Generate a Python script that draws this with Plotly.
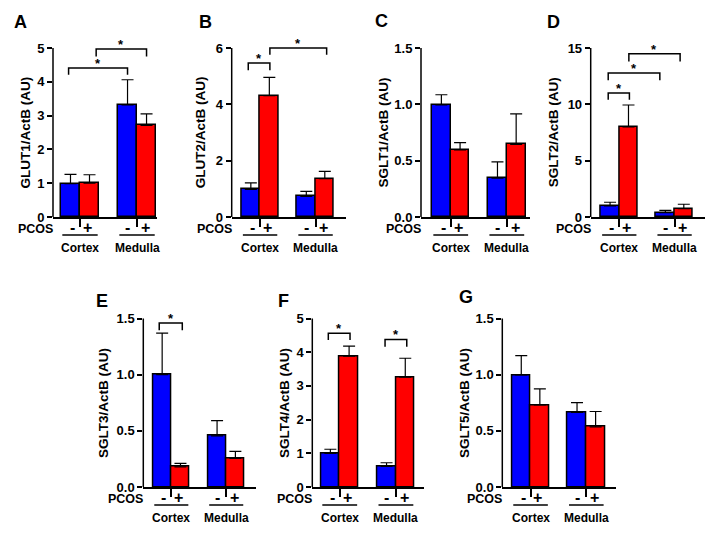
import plotly.graph_objects as go

# ---------------- data ----------------
groups = ["Cortex", "Medulla"]
group_centers = [0.5, 3.5]
pcos_labels = ["-", "+", "-", "+"]
pcos_label_x = [0.1, 0.9, 3.0, 3.95]
bar_x = [0, 1, 3, 4]
bar_colors = ["#0000FF", "#FF0000", "#0000FF", "#FF0000"]

glut1_mean = [0.99, 1.0, 3.32, 2.71]
glut1_err = [0.27, 0.25, 0.74, 0.34]
glut2_mean = [0.98, 4.31, 0.73, 1.36]
glut2_err = [0.23, 0.65, 0.18, 0.26]
sglt1_mean = [0.995, 0.595, 0.345, 0.645]
sglt1_err = [0.09, 0.065, 0.145, 0.27]
sglt2_mean = [0.98, 7.99, 0.38, 0.75]
sglt2_err = [0.33, 1.95, 0.21, 0.38]
sglt3_mean = [1.0, 0.18, 0.455, 0.255]
sglt3_err = [0.37, 0.03, 0.135, 0.062]
sglt4_mean = [1.0, 3.88, 0.61, 3.26]
sglt4_err = [0.12, 0.3, 0.11, 0.56]
sglt5_mean = [0.997, 0.73, 0.663, 0.535]
sglt5_err = [0.173, 0.143, 0.088, 0.137]

# significance brackets: (x start, x end, bracket height, tip bottom)
glut1_sig = [(-0.1, 3.0, 4.41, 4.21), (1.35, 4.0, 4.97, 4.75)]
glut2_sig = [(-0.14, 1.03, 5.47, 5.21), (1.03, 4.1, 6.0, 5.76)]
sglt1_sig = []
sglt2_sig = [(-0.1, 1.05, 11.0, 10.4), (-0.1, 2.7, 12.78, 12.13), (1.02, 3.8, 14.5, 13.8)]
sglt3_sig = [(-0.16, 1.1, 1.46, 1.395)]
sglt4_sig = [(-0.11, 1.05, 4.56, 4.36), (2.92, 4.08, 4.38, 4.16)]
sglt5_sig = []

letters = ["A", "B", "C", "D", "E", "F", "G"]
y_titles = ["GLUT1/ActB (AU)", "GLUT2/ActB (AU)", "SGLT1/ActB (AU)", "SGLT2/ActB (AU)",
            "SGLT3/ActB (AU)", "SGLT4/ActB (AU)", "SGLT5/ActB (AU)"]
y_max = [5, 6, 1.5, 15, 1.5, 5, 1.5]
y_tickvals = [[0, 1, 2, 3, 4, 5], [0, 2, 4, 6], [0, 0.5, 1.0, 1.5], [0, 5, 10, 15],
              [0, 0.5, 1.0, 1.5], [0, 1, 2, 3, 4, 5], [0, 0.5, 1.0, 1.5]]
y_ticktext = [["0", "1", "2", "3", "4", "5"], ["0", "2", "4", "6"], ["0.0", "0.5", "1.0", "1.5"],
              ["0", "5", "10", "15"], ["0.0", "0.5", "1.0", "1.5"], ["0", "1", "2", "3", "4", "5"],
              ["0.0", "0.5", "1.0", "1.5"]]

means = [glut1_mean, glut2_mean, sglt1_mean, sglt2_mean, sglt3_mean, sglt4_mean, sglt5_mean]
errs = [glut1_err, glut2_err, sglt1_err, sglt2_err, sglt3_err, sglt4_err, sglt5_err]
sigs = [glut1_sig, glut2_sig, sglt1_sig, sglt2_sig, sglt3_sig, sglt4_sig, sglt5_sig]

# ---------------- layout geometry (pixels) ----------------
W, H = 715, 534
x_px = [(53, 157), (231.7, 345.7), (421, 530), (590.7, 705),
        (143.3, 255.7), (312.3, 424), (502.3, 615.7)]
x_ranges = [(-0.92, 4.55), (-1.035, 5.13), (-1.09, 4.74), (-1.05, 5.15),
            (-1.03, 5.11), (-0.965, 5.0), (-1.02, 5.08)]
y_px = [(217, 48)] * 4 + [(487, 318.5)] * 3
title_offset = [28, 31, 38, 37, 40, 28, 38]
letter_px = [(20, 22), (205.5, 22), (381.5, 20.5), (553, 22), (101.7, 301), (283.7, 301), (466, 297)]
PAD = 22

FONT = "Liberation Sans, Arial, sans-serif"
fig = go.Figure()
shapes, annotations = [], []

for i in range(7):
    n = "" if i == 0 else str(i + 1)
    xa, ya = "x" + n, "y" + n
    y0p, ytp = y_px[i]
    h = y0p - ytp
    ymax_ext = y_max[i] * (h + PAD) / h

    fig.add_trace(go.Bar(
        x=bar_x, y=means[i], width=1, xaxis=xa, yaxis=ya,
        marker=dict(color=bar_colors, line=dict(color="black", width=1.5)),
        error_y=dict(type="data", symmetric=False, array=errs[i], arrayminus=[0] * 4,
                     color="black", thickness=1.2, width=6),
        showlegend=False, hoverinfo="skip"))

    fig.layout["xaxis" + n] = dict(
        domain=[x_px[i][0] / W, x_px[i][1] / W], range=list(x_ranges[i]), anchor=ya,
        automargin=False,
        showgrid=False, zeroline=False, showline=True, linecolor="black", linewidth=1.5,
        tickvals=group_centers, ticks="outside", ticklen=8, tickwidth=1.5, tickcolor="black",
        showticklabels=False, fixedrange=True)
    fig.layout["yaxis" + n] = dict(
        domain=[1 - y0p / H, 1 - (ytp - PAD) / H], range=[0, ymax_ext], anchor=xa,
        automargin=False,
        showgrid=False, zeroline=False, showline=False,
        tickvals=y_tickvals[i], ticktext=y_ticktext[i], ticks="outside", ticklen=5,
        tickwidth=1.5, tickcolor="black",
        tickfont=dict(family=FONT, size=13, color="black", weight="bold"),
        fixedrange=True)

    # y axis title
    annotations.append(dict(xref=xa + " domain", yref=ya, x=0, y=y_max[i] / 2, xanchor="center",
                            yanchor="middle", xshift=-title_offset[i], textangle=-90,
                            text=y_titles[i], showarrow=False,
                            font=dict(family=FONT, size=13.5, color="black", weight="bold")))

    # y axis line ending at the top tick
    shapes.append(dict(type="line", xref=xa + " domain", yref=ya, x0=0, x1=0, y0=0, y1=y_max[i],
                       line=dict(color="black", width=1.5)))

    # significance brackets
    for (sx0, sx1, sy, sb) in sigs[i]:
        shapes.append(dict(type="path", xref=xa, yref=ya,
                           path=f"M {sx0},{sb} L {sx0},{sy} L {sx1},{sy} L {sx1},{sb}",
                           line=dict(color="black", width=1.5)))
        annotations.append(dict(xref=xa, yref=ya, x=(sx0 + sx1) / 2, y=sy, yanchor="bottom",
                                yshift=-5, text="*", showarrow=False,
                                font=dict(family=FONT, size=13, color="black", weight="bold")))

    # PCOS row
    annotations.append(dict(xref=xa + " domain", yref=ya, x=0, y=0, xanchor="right", yanchor="middle",
                            xshift=1, yshift=-12, text="PCOS", showarrow=False, borderpad=0,
                            font=dict(family=FONT, size=12.5, color="black", weight="bold")))
    for lx, lt in zip(pcos_label_x, pcos_labels):
        annotations.append(dict(xref=xa, yref=ya, x=lx, y=0, yanchor="middle", yshift=-10,
                                text=lt, showarrow=False,
                                font=dict(family=FONT, size=16, color="black", weight="bold")))
    # group underline and labels
    for gc, g in zip(group_centers, groups):
        shapes.append(dict(type="line", xref=xa, yref=ya + " domain", x0=gc - 0.93, x1=gc + 0.93,
                           ysizemode="pixel", yanchor=0, y0=-18, y1=-18,
                           line=dict(color="black", width=1.5)))
        annotations.append(dict(xref=xa, yref=ya, x=gc, y=0, yanchor="middle", yshift=-31,
                                text=g, showarrow=False,
                                font=dict(family=FONT, size=12, color="black", weight="bold")))

    # panel letter
    lx, ly = letter_px[i]
    annotations.append(dict(xref="paper", yref="paper", x=lx / W, y=1 - ly / H,
                            xanchor="center", yanchor="middle", text=letters[i], showarrow=False,
                            font=dict(family=FONT, size=18, color="black", weight="bold")))

fig.update_layout(width=W, height=H, margin=dict(l=0, r=0, t=0, b=0, autoexpand=False),
                  paper_bgcolor="white", plot_bgcolor="white",
                  shapes=shapes, annotations=annotations, bargap=0,
                  font=dict(family=FONT, color="black"))

fig.write_html("out.html", config={"displayModeBar": False},
               post_script="document.body.style.margin='0px';")
